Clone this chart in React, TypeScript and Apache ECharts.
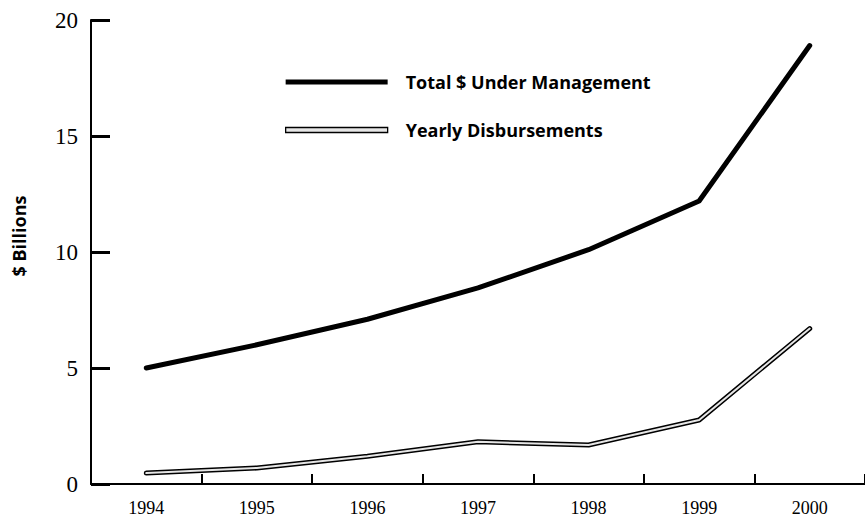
import React, { useEffect, useRef } from "react";
import * as echarts from "echarts";

const years = ["1994", "1995", "1996", "1997", "1998", "1999", "2000"];
const totalUnderManagement = [5.0, 6.0, 7.1, 8.45, 10.1, 12.2, 18.9];
const yearlyDisbursements = [0.47, 0.69, 1.2, 1.82, 1.68, 2.76, 6.7];
const yTicks = { min: 0, max: 20, interval: 5 };

const TOTAL_NAME = "Total $ Under Management";
const YEARLY_NAME = "Yearly Disbursements";

export default function App() {
  const ref = useRef<HTMLDivElement>(null);
  useEffect(() => {
    if (!ref.current) return;
    const chart = echarts.init(ref.current, undefined, { renderer: "svg" });
    chart.setOption({
      animation: false,
      backgroundColor: "#ffffff",
      grid: { left: 91, top: 20, width: 782, bottom: 39, containLabel: false },
      legend: {
        orient: "vertical",
        left: 280,
        top: 68,
        itemWidth: 102,
        itemHeight: 5,
        itemGap: 30,
        selectedMode: false,
        textStyle: {
          fontFamily: "Open Sans",
          fontWeight: "bold",
          fontSize: 18,
          color: "#000",
          padding: [0, 0, 0, 13],
        },
        data: [
          { name: TOTAL_NAME, icon: "rect", itemStyle: { color: "#000", borderWidth: 0 } },
          {
            name: YEARLY_NAME,
            icon: "rect",
            itemStyle: { color: "#e6e6e6", borderColor: "#000", borderWidth: 1.3 },
          },
        ],
      },
      xAxis: {
        type: "category",
        data: years,
        boundaryGap: true,
        axisLine: { show: true, lineStyle: { color: "#000", width: 2 } },
        axisTick: { show: true, inside: true, length: 10, lineStyle: { color: "#000", width: 2 } },
        axisLabel: {
          margin: 15,
          color: "#000",
          fontFamily: "Liberation Serif",
          fontSize: 18,
        },
        splitLine: { show: false },
      },
      yAxis: {
        type: "value",
        min: yTicks.min,
        max: yTicks.max,
        interval: yTicks.interval,
        axisLine: { show: true, lineStyle: { color: "#000", width: 2 } },
        axisTick: { show: true, inside: true, length: 19, lineStyle: { color: "#000", width: 3 } },
        axisLabel: {
          margin: 13,
          color: "#000",
          fontFamily: "Liberation Serif",
          fontSize: 23,
        },
        splitLine: { show: false },
      },
      graphic: [
        {
          type: "text",
          x: 19,
          y: 236,
          rotation: Math.PI / 2,
          style: {
            text: "$ Billions",
            fontFamily: "Open Sans",
            fontWeight: "bold",
            fontSize: 18,
            fill: "#000",
            align: "center",
            verticalAlign: "middle",
          },
        },
      ],
      series: [
        {
          name: TOTAL_NAME,
          type: "line",
          data: totalUnderManagement,
          showSymbol: false,
          symbol: "none",
          lineStyle: { color: "#000", width: 5, cap: "round", join: "round" },
          itemStyle: { color: "#000" },
          z: 3,
        },
        {
          name: YEARLY_NAME,
          type: "line",
          data: yearlyDisbursements,
          showSymbol: false,
          symbol: "none",
          lineStyle: { color: "#000", width: 5, cap: "round", join: "round" },
          itemStyle: { color: "#000" },
          z: 3,
        },
        {
          name: "yearly-inner",
          type: "line",
          data: yearlyDisbursements,
          showSymbol: false,
          symbol: "none",
          lineStyle: { color: "#e6e6e6", width: 2, cap: "round", join: "round" },
          z: 4,
        },
      ],
    });
    return () => chart.dispose();
  }, []);
  return <div ref={ref} style={{ width: 865, height: 523, position: "absolute", left: 0, top: 0 }} />;
}
